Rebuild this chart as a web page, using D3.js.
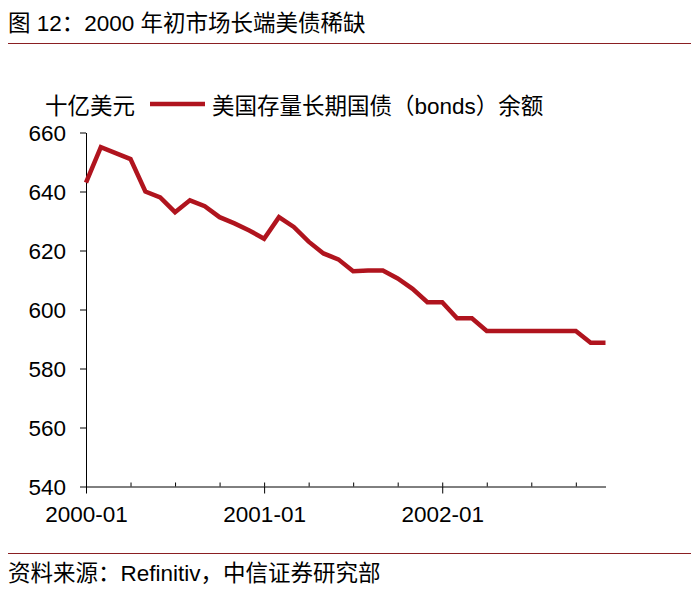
<!DOCTYPE html>
<html>
<head>
<meta charset="utf-8">
<script src="https://cdn.jsdelivr.net/npm/d3@7"></script>
<style>
  body { margin: 0; background: #fff; }
  svg text { font-family: "Liberation Sans", Arial, "Noto Sans CJK SC", sans-serif; fill: #000; }
</style>
</head>
<body>
<div class="chart"></div>
<script>
// monthly categories
const months = [
  '2000-01', '2000-02', '2000-03', '2000-04', '2000-05', '2000-06',
  '2000-07', '2000-08', '2000-09', '2000-10', '2000-11', '2000-12',
  '2001-01', '2001-02', '2001-03', '2001-04', '2001-05', '2001-06',
  '2001-07', '2001-08', '2001-09', '2001-10', '2001-11', '2001-12',
  '2002-01', '2002-02', '2002-03', '2002-04', '2002-05', '2002-06',
  '2002-07', '2002-08', '2002-09', '2002-10', '2002-11', '2002-12'
];
// 美国存量长期国债（bonds）余额, 十亿美元
const bonds = [
  643, 655, 653, 651, 640, 638, 633, 637, 635, 631.3, 629.2, 626.8,
  624, 631.3, 628, 623, 619, 617, 613, 613.2, 613.2, 610.5, 607, 602.5,
  602.5, 597, 597, 592.7, 592.7, 592.7, 592.7, 592.7, 592.7, 592.7, 588.7, 588.7
];
const yTicks = [540, 560, 580, 600, 620, 640, 660];
const yearTicks = ['2000-01', '2001-01', '2002-01'];
const quarterTicks = months.filter(function(m, i) { return i % 3 === 0; });

const title = '图 12：2000 年初市场长端美债稀缺';
const unitLabel = '十亿美元';
const seriesName = '美国存量长期国债（bonds）余额';
const source = '资料来源：Refinitiv，中信证券研究部';

const width = 699, height = 603;
const plot = { left: 86, right: 605.5, top: 132.5, bottom: 486.5 };
const red = '#b0141e';
const rule = '#8a1f22';
const fs = '22.5px';

const svg = d3.select('.chart').append('svg')
  .attr('width', width).attr('height', height);

// header and footer
svg.append('text').attr('x', 8).attr('y', 31).style('font-size', '22.5px').text(title);
svg.append('line').attr('x1', 8).attr('x2', 691).attr('y1', 43.5).attr('y2', 43.5)
  .attr('stroke', rule).attr('stroke-width', 1.2);
svg.append('line').attr('x1', 8).attr('x2', 691).attr('y1', 553.5).attr('y2', 553.5)
  .attr('stroke', rule).attr('stroke-width', 1.2);
svg.append('text').attr('x', 8).attr('y', 581).style('font-size', '22.5px').text(source);

const x = d3.scalePoint().domain(months).range([plot.left, plot.right]);
const y = d3.scaleLinear().domain([540, 660]).range([plot.bottom, plot.top]);

// y axis
const yAxis = svg.append('g').attr('transform', 'translate(' + plot.left + ',0)')
  .call(d3.axisLeft(y).tickValues(yTicks).tickSize(6).tickPadding(14).tickSizeOuter(0));
yAxis.selectAll('text').style('font-size', fs).attr('dy', '0.36em');

// x axis: quarter ticks above the line, year ticks below with labels
svg.append('g').attr('transform', 'translate(0,' + plot.bottom + ')')
  .call(d3.axisBottom(x).tickValues(quarterTicks).tickSize(-4).tickSizeOuter(0).tickFormat(''));
const xAxis = svg.append('g').attr('transform', 'translate(0,' + plot.bottom + ')')
  .call(d3.axisBottom(x).tickValues(yearTicks).tickSize(7).tickPadding(13));
xAxis.select('.domain').remove();
xAxis.selectAll('text').style('font-size', fs).attr('dy', '0.71em');
svg.selectAll('.domain, .tick line').attr('stroke', '#000');

// series line
const line = d3.line()
  .x(function(d, i) { return x(months[i]); })
  .y(function(d) { return y(d); });
svg.append('path').datum(bonds)
  .attr('d', line)
  .attr('fill', 'none')
  .attr('stroke', red)
  .attr('stroke-width', 4.5)
  .attr('stroke-linejoin', 'miter');

// legend
svg.append('text').attr('x', 45).attr('y', 114).style('font-size', fs).text(unitLabel);
svg.append('line').attr('x1', 150).attr('x2', 205).attr('y1', 104).attr('y2', 104)
  .attr('stroke', red).attr('stroke-width', 4.5);
svg.append('text').attr('x', 212).attr('y', 114).style('font-size', fs).text(seriesName);
</script>
</body>
</html>
